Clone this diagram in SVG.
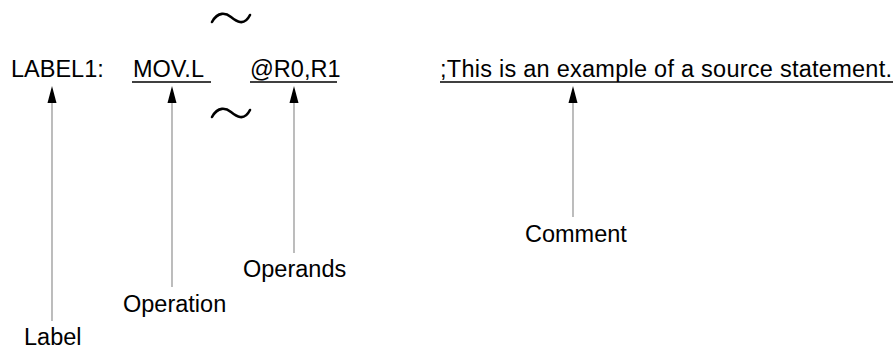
<svg xmlns="http://www.w3.org/2000/svg" width="894" height="351" viewBox="0 0 894 351">
<defs>
<style>
text{font-family:"Liberation Sans",Arial,sans-serif;font-size:23.5px;fill:#000}
.ul{stroke:#000;stroke-width:1.6;fill:none}
.ln{stroke:#999;stroke-width:1.3;fill:none}
.tl{stroke:#000;stroke-width:2.6;fill:none;stroke-linecap:round}
.ah{fill:#000}
</style>
</defs>
<rect width="894" height="351" fill="#fff"/>
<g id="statement">
<text x="11" y="77">LABEL1:</text>
<text x="133" y="77">MOV.L</text>
<line class="ul" x1="132" y1="82" x2="211" y2="82"/>
<text x="250" y="77">@R0,R1</text>
<line class="ul" x1="250" y1="82" x2="337" y2="82"/>
<text x="440" y="77" textLength="452">;This is an example of a source statement.</text>
<line class="ul" x1="440" y1="82" x2="893" y2="82"/>
<path class="tl" d="M212,22 C218,11 226,13 231,17 C236,21 244,27 250,15"/>
<path class="tl" d="M212,117 C218,106 226,108 231,112 C236,116 244,122 250,110"/>
</g>
<g id="connectors">
<line class="ln" x1="52" y1="100" x2="52" y2="321"/>
<path class="ah" d="M52,86 L56.5,103 L47.5,103 Z"/>
<line class="ln" x1="172" y1="100" x2="172" y2="287"/>
<path class="ah" d="M172,86 L176.5,103 L167.5,103 Z"/>
<line class="ln" x1="294" y1="100" x2="294" y2="253"/>
<path class="ah" d="M294,86 L298.5,103 L289.5,103 Z"/>
<line class="ln" x1="573" y1="100" x2="573" y2="217"/>
<path class="ah" d="M573,86 L577.5,103 L568.5,103 Z"/>
</g>
<g id="label"><text x="24" y="345">Label</text></g>
<g id="operation"><text x="123" y="312">Operation</text></g>
<g id="operands"><text x="243" y="277">Operands</text></g>
<g id="comment"><text x="525" y="242">Comment</text></g>
</svg>
